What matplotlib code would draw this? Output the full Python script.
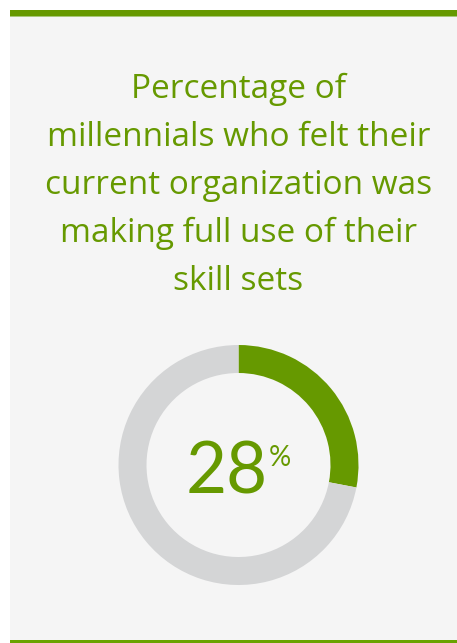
import matplotlib
matplotlib.use("Agg")
import matplotlib.pyplot as plt
from matplotlib.patches import Rectangle

# data
share = 28
rest = 100 - share
title_lines = ["Percentage of", "millennials who felt their",
               "current organization was", "making full use of their", "skill sets"]

GREEN = "#669900"
GREY = "#d4d5d6"
BG = "#f5f5f5"
W, H = 457, 643

plt.rcParams['font.family'] = ['Open Sans', 'DejaVu Sans']

fig = plt.figure(figsize=(W / 100, H / 100), dpi=100)
fig.patch.set_facecolor("white")

# full-figure axes in pixel coords
ax = fig.add_axes([0, 0, 1, 1])
ax.set_xlim(0, W); ax.set_ylim(H, 0)
ax.axis("off")
ax.add_patch(Rectangle((10, 10), W - 10, H - 12, facecolor=BG, edgecolor="none"))
ax.add_patch(Rectangle((10, 10), W - 10, 6, facecolor=GREEN, edgecolor="none"))
ax.add_patch(Rectangle((10, 16), W - 10, 1, facecolor="#a8c878", edgecolor="none"))
ax.add_patch(Rectangle((10, 640), W - 10, 3, facecolor="#6aa300", edgecolor="none"))

baselines = [98, 146, 194, 242, 290]
for line, yb in zip(title_lines, baselines):
    ax.text(238.5, yb, line, ha="center", va="baseline", fontsize=24, color=GREEN)

# donut
cx, cy, r = 238.5, 465, 120
dax = fig.add_axes([(cx - r) / W, (H - cy - r) / H, 2 * r / W, 2 * r / H])
dax.pie([share, rest], colors=[GREEN, GREY], startangle=90, counterclock=False,
        wedgeprops=dict(width=28 / 120, edgecolor="none"), radius=1)
dax.set_xlim(-1, 1); dax.set_ylim(-1, 1)
dax.set_aspect("equal")
dax.axis("off")

ax.text(268, 493, f"{share}", ha="right", va="baseline", fontsize=51, color=GREEN,
        family=['Lato', 'DejaVu Sans'])
ax.text(269, 466, "%", ha="left", va="baseline", fontsize=20, color=GREEN,
        family=['Lato', 'DejaVu Sans'])

fig.savefig("out.png", dpi=100, facecolor=fig.get_facecolor())
